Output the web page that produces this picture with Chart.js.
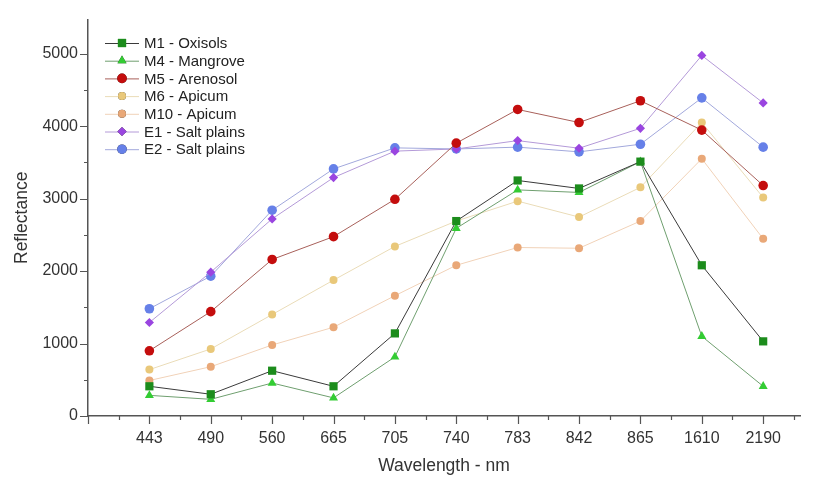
<!DOCTYPE html>
<html>
<head>
<meta charset="utf-8">
<script src="https://cdn.jsdelivr.net/npm/chart.js@4.4.1/dist/chart.umd.min.js"></script>
<style>
  html, body { margin: 0; padding: 0; background: #ffffff; }
  #wrap { width: 813px; height: 477px; }
</style>
</head>
<body>
<div id="wrap"><canvas id="c" width="813" height="477"></canvas></div>
<script>
// Wavelength categories (nm)
const wavelengths = ["443", "490", "560", "665", "705", "740", "783", "842", "865", "1610", "2190"];

// Y tick labels
const yTickValues = [0, 1000, 2000, 3000, 4000, 5000];

// Series values (reflectance)
const m1Oxisols   = [410, 300, 625, 410, 1140, 2690, 3250, 3140, 3510, 2080, 1030];
const m4Mangrove  = [285, 230, 455, 250, 815, 2590, 3120, 3085, 3510, 1100, 410];
const m5Arenosol  = [900, 1440, 2160, 2475, 2990, 3765, 4230, 4050, 4350, 3945, 3180];
const m6Apicum    = [640, 925, 1400, 1875, 2340, 2690, 2965, 2745, 3155, 4050, 3015];
const m10Apicum   = [490, 680, 980, 1225, 1660, 2080, 2325, 2315, 2690, 3550, 2445];
const e1Salt      = [1290, 1985, 2720, 3290, 3655, 3685, 3800, 3695, 3970, 4975, 4320];
const e2Salt      = [1480, 1930, 2840, 3410, 3700, 3685, 3710, 3645, 3750, 4390, 3710];

const seriesNames = ["M1 - Oxisols", "M4 - Mangrove", "M5 - Arenosol", "M6 - Apicum", "M10 - Apicum", "E1 - Salt plains", "E2 - Salt plains"];
const seriesValues = [m1Oxisols, m4Mangrove, m5Arenosol, m6Apicum, m10Apicum, e1Salt, e2Salt];

// styles (kept separate from the data)
const styles = [
  { line: "#3a3a3a", fill: "#1c8c1c", shape: "rect",     r: 5.8 },
  { line: "#6f9f6f", fill: "#33cc33", shape: "triangle", r: 5.2 },
  { line: "#a8605a", fill: "#c40d0d", shape: "circle",   r: 4.8 },
  { line: "#eadcb8", fill: "#e9c87a", shape: "circle",   r: 4.0 },
  { line: "#f1d2b8", fill: "#e9a878", shape: "circle",   r: 4.0 },
  { line: "#b49ad8", fill: "#9a45e0", shape: "rectRot",  r: 4.6 },
  { line: "#a2a8dc", fill: "#6680e8", shape: "circle",   r: 4.8 }
];

const datasets = seriesNames.map((name, i) => ({
  label: name,
  data: seriesValues[i].map((v, j) => ({ x: j, y: v })),
  borderColor: styles[i].line,
  backgroundColor: styles[i].fill,
  pointBackgroundColor: styles[i].fill,
  pointBorderColor: styles[i].fill,
  pointBorderWidth: 0,
  pointStyle: styles[i].shape,
  pointRadius: styles[i].r,
  pointHoverRadius: styles[i].r,
  borderWidth: 1,
  tension: 0,
  clip: false
}));

const FONT = "'Liberation Sans', Arial, Helvetica, sans-serif";
const AXIS_COLOR = "#555555";
const TEXT_COLOR = "#333333";

// draw major/minor tick marks through the library's scales
const tickPlugin = {
  id: "tickMarks",
  afterDraw(chart) {
    const ctx = chart.ctx;
    const xs = chart.scales.x, ys = chart.scales.y;
    ctx.save();
    ctx.strokeStyle = AXIS_COLOR;
    ctx.lineWidth = 1.2;
    ctx.beginPath();
    for (let v = -1; v <= 10.5 + 1e-9; v += 0.5) {
      const px = Math.round(xs.getPixelForValue(v)) + 0.5;
      const len = Math.abs(v - Math.round(v)) < 1e-9 ? 8 : 4;
      ctx.moveTo(px, ys.bottom);
      ctx.lineTo(px, ys.bottom + len);
    }
    for (let v = 0; v <= 5000; v += 500) {
      const py = Math.round(ys.getPixelForValue(v)) + 0.5;
      const len = v % 1000 === 0 ? 8 : 4;
      ctx.moveTo(xs.left, py);
      ctx.lineTo(xs.left - len, py);
    }
    ctx.stroke();
    ctx.restore();
  }
};

// legend inside the plot (line sample + marker + label)
const legendPlugin = {
  id: "insideLegend",
  afterDraw(chart) {
    const ctx = chart.ctx;
    const x0 = 105, x1 = 139, xm = 122, tx = 144, y0 = 43, dy = 17.7;
    ctx.save();
    chart.data.datasets.forEach((ds, i) => {
      const y = y0 + i * dy;
      ctx.strokeStyle = ds.borderColor;
      ctx.lineWidth = 1;
      ctx.beginPath();
      ctx.moveTo(x0, y + 0.5);
      ctx.lineTo(x1, y + 0.5);
      ctx.stroke();
      Chart.helpers.drawPoint(ctx, {
        pointStyle: ds.pointStyle,
        radius: ds.pointRadius,
        rotation: 0,
        borderWidth: 0
      }, xm, y);
      ctx.fillStyle = ds.pointBackgroundColor;
      ctx.fill();
      ctx.fillStyle = "#222222";
      ctx.font = "15px " + FONT;
      ctx.textBaseline = "middle";
      ctx.textAlign = "left";
      ctx.fillText(ds.label, tx, y + 1);
    });
    ctx.restore();
  }
};

new Chart(document.getElementById("c"), {
  type: "line",
  data: { datasets },
  options: {
    responsive: false,
    animation: false,
    events: [],
    layout: { padding: { top: 12, right: 13, left: 0, bottom: 0 } },
    plugins: { legend: { display: false }, tooltip: { enabled: false } },
    scales: {
      x: {
        type: "linear",
        min: -1,
        max: 10.6,
        afterFit: s => { s.height = 61; },
        afterBuildTicks: s => { s.ticks = wavelengths.map((_, i) => ({ value: i })); },
        grid: { display: false, drawTicks: false },
        border: { display: true, color: AXIS_COLOR, width: 1.5 },
        ticks: {
          autoSkip: false,
          maxRotation: 0,
          padding: 13,
          color: TEXT_COLOR,
          font: { family: FONT, size: 16 },
          callback: v => wavelengths[Math.round(v)]
        },
        title: {
          display: true,
          text: "Wavelength - nm",
          color: TEXT_COLOR,
          font: { family: FONT, size: 17.5 },
          padding: { top: 0, bottom: 0.5 }
        }
      },
      y: {
        type: "linear",
        min: 0,
        max: 5470,
        afterFit: s => { s.width = 88; },
        afterBuildTicks: s => { s.ticks = yTickValues.map(v => ({ value: v })); },
        grid: { display: false, drawTicks: false },
        border: { display: true, color: AXIS_COLOR, width: 1.5 },
        ticks: {
          autoSkip: false,
          padding: 10,
          color: TEXT_COLOR,
          font: { family: FONT, size: 16 },
          callback: v => String(v)
        },
        title: {
          display: true,
          text: "Reflectance",
          color: TEXT_COLOR,
          font: { family: FONT, size: 17.5 },
          padding: { top: 11.5, bottom: 0 }
        }
      }
    }
  },
  plugins: [tickPlugin, legendPlugin]
});
</script>
</body>
</html>
